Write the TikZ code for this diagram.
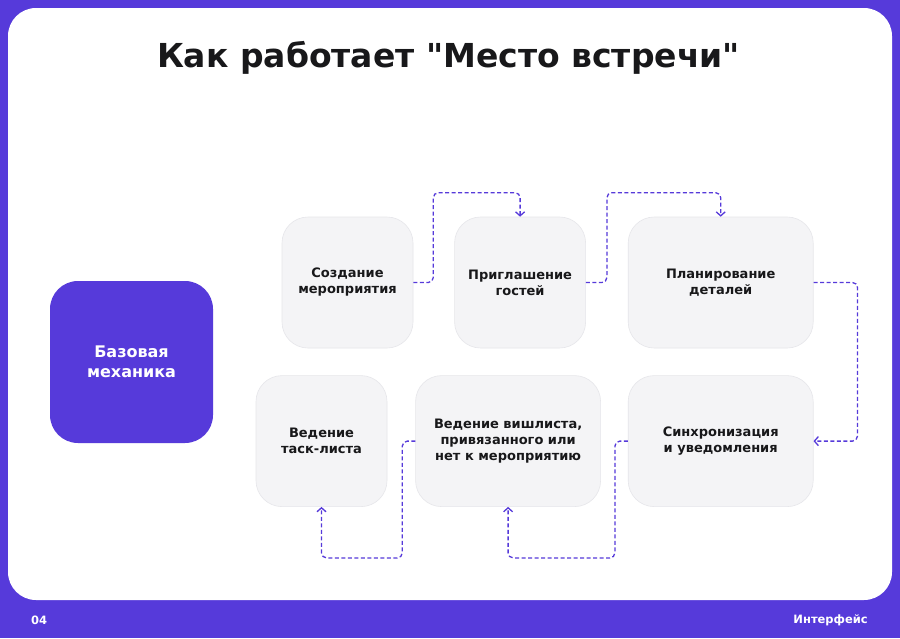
\documentclass[tikz,border=0pt]{standalone}
\usepackage{fontspec}
\setmainfont{DejaVu Sans}
\newfontfamily\stagefont{DejaVu Sans}
\usepackage{tikz}
\usetikzlibrary{arrows.meta,positioning}
\definecolor{brand}{RGB}{86,58,218}
\definecolor{stagefill}{RGB}{244,244,246}
\definecolor{stageline}{RGB}{230,230,234}
\definecolor{ink}{RGB}{24,24,26}
\tikzset{stage/.style={draw=stageline,line width=0.6pt,fill=stagefill,rounded corners=26pt,minimum width=131pt,minimum height=131pt,align=center,text=ink,font=\stagefont\bfseries\fontsize{13}{16}\selectfont},widestage/.style={stage,minimum width=185pt},base/.style={fill=brand,rounded corners=28pt,minimum width=163pt,minimum height=162pt,align=center,text=white,font=\stagefont\bfseries\fontsize{16}{19.5}\selectfont},link/.style={-{Straight Barb[length=4pt,width=9pt]},draw=brand,line width=1.3pt,dash pattern=on 4pt off 2.5pt,rounded corners=5pt},foot/.style={text=white,font=\stagefont\bfseries\fontsize{11.5}{14}\selectfont,inner sep=0pt}}

\begin{document}
\begin{tikzpicture}[x=1pt,y=-1pt,node distance=27pt and 41pt]
\useasboundingbox (0,0) rectangle (900,638);
\fill[brand] (0,0) rectangle (900,638);
\fill[white,rounded corners=28pt] (8,8) rectangle (892,600);
\node[anchor=base,text=ink,font=\stagefont\bfseries\fontsize{33}{38}\selectfont] (head) at (448.5,67) {Как работает "Место встречи"};
\node[base] (core) at (131.5,362) {Базовая\\механика};
\node[stage] (create) at (347.5,282.5) {Создание\\мероприятия};
\node[stage,right=of create] (invite) {Приглашение\\гостей};
\node[widestage,right=42pt of invite] (plan) {Планирование\\деталей};
\node[widestage,below=of plan] (sync) {Синхронизация\\и уведомления};
\node[widestage,left=27pt of sync] (wish) {Ведение вишлиста,\\привязанного или\\нет к мероприятию};
\node[stage,left=28pt of wish] (task) {Ведение\\таск-листа};
\draw[link] (create.east) -- ++(20,0) |- ([yshift=24pt]invite.north) -- (invite.north);
\draw[link] (invite.east) -- ++(21,0) |- ([yshift=24pt]plan.north) -- (plan.north);
\draw[link] (plan.east) -- ++(44,0) |- (sync.east);
\draw[link] (sync.west) -- ++(-13,0) |- ([yshift=-51pt]wish.south) -- (wish.south);
\draw[link] (wish.west) -- ++(-13,0) |- ([yshift=-51pt]task.south) -- (task.south);
\node[foot,anchor=west] (page) at (31,620.5) {04};
\node[foot,anchor=east] (section) at (868,620.5) {Интерфейс};
\end{tikzpicture}
\end{document}
